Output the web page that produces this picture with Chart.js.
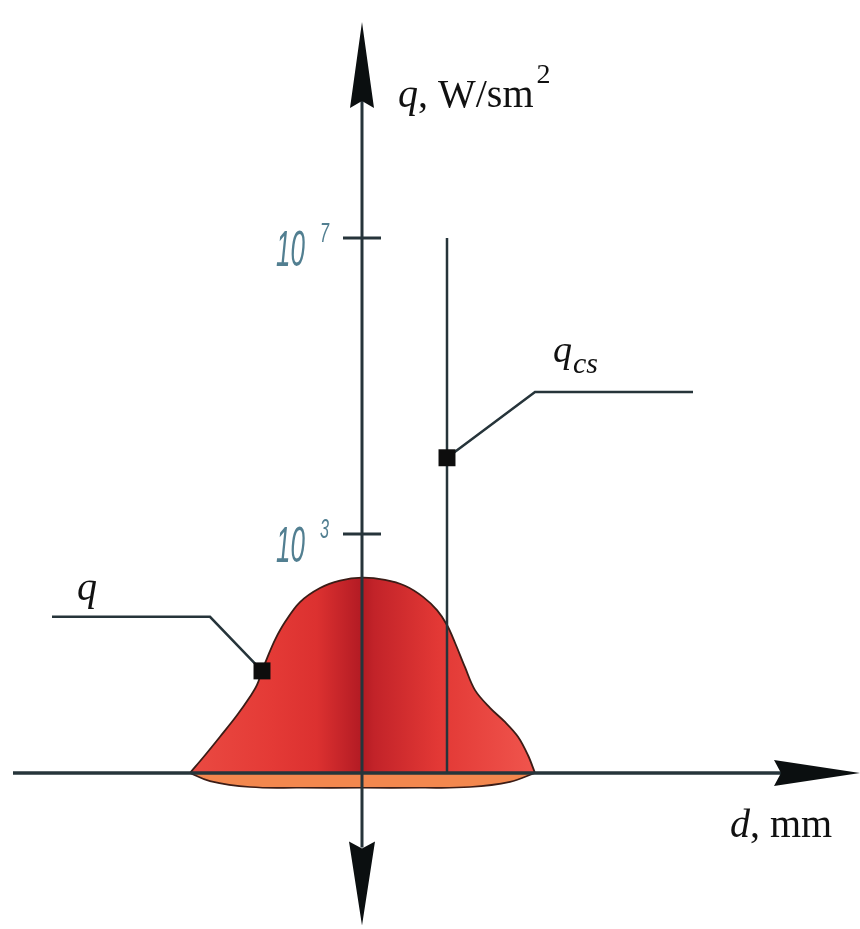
<!DOCTYPE html>
<html>
<head>
<meta charset="utf-8">
<script src="https://cdn.jsdelivr.net/npm/chart.js@4.4.1/dist/chart.umd.min.js"></script>
<style>
html,body{margin:0;padding:0;background:#ffffff;}
canvas{display:block;}
</style>
</head>
<body>
<canvas id="c" width="860" height="929"></canvas>
<script>
// ---------- data (d in mm, arbitrary units; q as log10 exponent) ----------
const profileD    = [-1.72,-1.57,-1.42,-1.25,-1.12,-1.05,-1.00,-0.95,-0.87,-0.77,-0.62,-0.42,-0.22,0.00,0.23,0.43,0.61,0.75,0.85,0.93,1.03,1.13,1.28,1.43,1.56,1.66,1.73];
const profileLogQ = [-0.23,0.01,0.26,0.55,0.80,0.96,1.15,1.32,1.57,1.81,2.08,2.27,2.37,2.41,2.38,2.30,2.15,1.97,1.77,1.53,1.20,0.89,0.65,0.46,0.26,0.01,-0.23];
const baseD       = [-1.72,-1.52,-1.12,-0.62,0.00,0.58,1.08,1.48,1.73];
const baseLogQ    = [-0.23,-0.34,-0.42,-0.43,-0.43,-0.43,-0.42,-0.35,-0.23];
const criticalD   = [0.85,0.85];
const criticalLogQ= [7,-0.23];
const tickExponents = [3,7];
const tickBase = '10';
const qMarker   = {d:-1.00, logQ:1.15};
const qcsMarker = {d:0.85,  logQ:4.03};
const qLeaderD    = [-3.10,-1.52,-1.00];
const qLeaderLogQ = [1.88,1.88,1.15];
const qcsLeaderD    = [0.85,1.73,3.31];
const qcsLeaderLogQ = [4.03,4.92,4.92];

// ---------- layout ----------
const X_MIN = -3.62, X_MAX = 4.98;
const Y_MIN = -2.338, Y_MAX = 10.216;
const AXIS_Y = -0.23;
const X_AXIS_START = -3.49, X_AXIS_END = 4.98;
const Y_AXIS_BOTTOM = -2.29, Y_AXIS_TOP = 9.92;
const INK = '#26343a';

const pts = (xs, ys) => xs.map((v, i) => ({x: v, y: ys[i]}));

function redGradient(context) {
  const chart = context.chart;
  if (!chart.chartArea) return '#e53935';
  const xs = chart.scales.x;
  const d0 = profileD[0], d1 = profileD[profileD.length - 1];
  const p0 = xs.getPixelForValue(d0), p1 = xs.getPixelForValue(d1);
  const g = chart.ctx.createLinearGradient(p0, 0, p1, 0);
  const f = d => (d - d0) / (d1 - d0);
  g.addColorStop(0, '#ea4a42');
  g.addColorStop(f(-0.9), '#e43a36');
  g.addColorStop(f(-0.45), '#dc3130');
  g.addColorStop(f(-0.05), '#b71d25');
  g.addColorStop(f(0.0), '#b31b23');
  g.addColorStop(f(0.12), '#c22329');
  g.addColorStop(f(0.75), '#e23835');
  g.addColorStop(1, '#f0554d');
  return g;
}

function arrow(ctx, tx, ty, dx, dy, len, half, notch) {
  const px = -dy, py = dx;
  const bx = tx - dx * len, by = ty - dy * len;
  ctx.beginPath();
  ctx.moveTo(tx, ty);
  ctx.lineTo(bx + px * half, by + py * half);
  ctx.lineTo(bx + dx * notch, by + dy * notch);
  ctx.lineTo(bx - px * half, by - py * half);
  ctx.closePath();
  ctx.fill();
}

function drawRuns(ctx, x, y, runs) {
  let cx = x;
  for (const r of runs) {
    ctx.font = r.font;
    ctx.fillText(r.t, cx, y + (r.dy || 0));
    cx += ctx.measureText(r.t).width + (r.gap || 0);
  }
}

const diagramPlugin = {
  id: 'diagram',
  afterDatasetsDraw(chart) {
    const {ctx} = chart;
    const xs = chart.scales.x, ys = chart.scales.y;
    const ox = xs.getPixelForValue(0);
    const oy = ys.getPixelForValue(AXIS_Y);
    const left = xs.getPixelForValue(X_AXIS_START);
    const right = xs.getPixelForValue(X_AXIS_END);
    const top = ys.getPixelForValue(Y_AXIS_TOP);
    const bottom = ys.getPixelForValue(Y_AXIS_BOTTOM);
    ctx.save();
    ctx.strokeStyle = INK;
    ctx.fillStyle = '#0b0f10';
    ctx.lineWidth = 3.5;
    ctx.beginPath(); ctx.moveTo(left, oy); ctx.lineTo(right - 78, oy); ctx.stroke();
    ctx.lineWidth = 3;
    ctx.beginPath(); ctx.moveTo(ox, top + 78); ctx.lineTo(ox, bottom - 78); ctx.stroke();
    arrow(ctx, right, oy, 1, 0, 86, 13, 7);
    arrow(ctx, ox, top, 0, -1, 86, 12, 7);
    arrow(ctx, ox, bottom, 0, 1, 84, 13, 7);

    // ticks
    ctx.lineWidth = 3;
    for (const e of tickExponents) {
      const py = ys.getPixelForValue(e);
      ctx.beginPath(); ctx.moveTo(ox - 19, py); ctx.lineTo(ox + 19, py); ctx.stroke();
      ctx.fillStyle = '#527f91';
      ctx.save();
      ctx.translate(ox - 57, py + 28);
      ctx.scale(0.52, 1);
      ctx.font = 'italic 50px "Liberation Sans"';
      ctx.textAlign = 'right';
      ctx.fillText(tickBase, 0, 0);
      ctx.restore();
      ctx.save();
      ctx.translate(ox - 42, py + 4);
      ctx.scale(0.6, 1);
      ctx.font = 'italic 27px "Liberation Sans"';
      ctx.textAlign = 'left';
      ctx.fillText(String(e), 0, 0);
      ctx.restore();
    }

    // axis titles
    ctx.fillStyle = '#111111';
    ctx.textAlign = 'left';
    ctx.textBaseline = 'alphabetic';
    drawRuns(ctx, ox + 36, top + 85, [
      {t: 'q', font: 'italic 40px "Liberation Serif"'},
      {t: ', W/sm', font: '40px "Liberation Serif"', gap: 3},
      {t: '2', font: '28px "Liberation Serif"', dy: -24}
    ]);
    drawRuns(ctx, 730, oy + 64, [
      {t: 'd', font: 'italic 40px "Liberation Serif"'},
      {t: ', mm', font: '40px "Liberation Serif"'}
    ]);
    // leader labels
    const qx = xs.getPixelForValue(qLeaderD[0]), qy = ys.getPixelForValue(qLeaderLogQ[0]);
    drawRuns(ctx, qx + 25, qy - 17, [{t: 'q', font: 'italic 40px "Liberation Serif"'}]);
    const cx = xs.getPixelForValue(qcsLeaderD[1]), cy = ys.getPixelForValue(qcsLeaderLogQ[1]);
    drawRuns(ctx, cx + 18, cy - 30, [
      {t: 'q', font: 'italic 38px "Liberation Serif"', gap: 1},
      {t: 'cs', font: 'italic 30px "Liberation Serif"', dy: 11}
    ]);
    ctx.restore();
  }
};

new Chart(document.getElementById('c'), {
  type: 'scatter',
  data: {
    datasets: [
      {
        label: 'markers',
        data: [{x: qMarker.d, y: qMarker.logQ}, {x: qcsMarker.d, y: qcsMarker.logQ}],
        pointStyle: 'rect', pointRadius: 12, backgroundColor: '#0d0d0d', borderWidth: 0,
        showLine: false, order: 0
      },
      {
        label: 'q leader', data: pts(qLeaderD, qLeaderLogQ), showLine: true,
        borderColor: INK, borderWidth: 2.5, pointRadius: 0, fill: false, order: 1
      },
      {
        label: 'qcs leader', data: pts(qcsLeaderD, qcsLeaderLogQ), showLine: true,
        borderColor: INK, borderWidth: 2.5, pointRadius: 0, fill: false, order: 1
      },
      {
        label: 'q_cs', data: pts(criticalD, criticalLogQ), showLine: true,
        borderColor: INK, borderWidth: 2.5, pointRadius: 0, fill: false, order: 2
      },
      {
        label: 'spot base', data: pts(baseD, baseLogQ), showLine: true, tension: 0.4,
        borderColor: '#3b1c16', borderWidth: 1.6, pointRadius: 0,
        backgroundColor: '#f3874e', fill: {value: AXIS_Y}, order: 3
      },
      {
        label: 'q', data: pts(profileD, profileLogQ), showLine: true, tension: 0.35,
        borderColor: '#3b1c16', borderWidth: 1.8, pointRadius: 0,
        backgroundColor: redGradient, fill: {value: AXIS_Y}, order: 4
      }
    ]
  },
  options: {
    responsive: false,
    devicePixelRatio: 1,
    animation: false,
    events: [],
    layout: {padding: 0, autoPadding: false},
    plugins: {legend: {display: false}, tooltip: {enabled: false}},
    scales: {
      x: {type: 'linear', min: X_MIN, max: X_MAX, display: false},
      y: {type: 'linear', min: Y_MIN, max: Y_MAX, display: false}
    }
  },
  plugins: [diagramPlugin]
});
</script>
</body>
</html>
